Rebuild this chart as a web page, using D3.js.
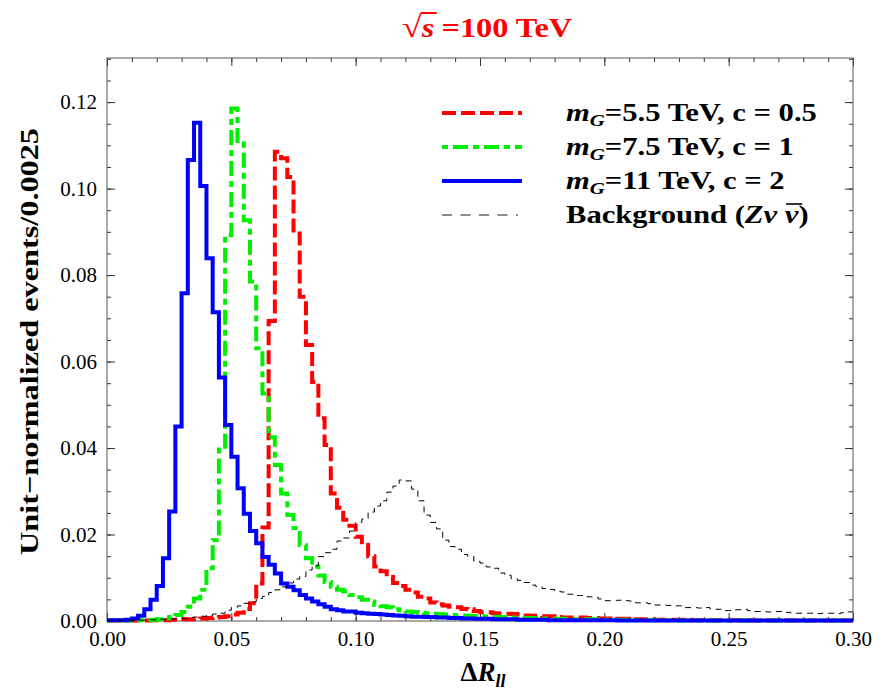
<!DOCTYPE html>
<html>
<head>
<meta charset="utf-8">
<script src="https://cdn.jsdelivr.net/npm/d3@7"></script>
<style>
body { margin: 0; background: #fff; }
text { font-family: "Liberation Serif", "Times New Roman", serif; }
</style>
</head>
<body>
<div id="chart-area"></div>
<script>
// histogram bins, width 0.0025 from 0 to 0.3 (120 bins)
var binWidth = 0.0025;
var xMax = 0.3;

var redValues = [
  0.0001,0.0001,0.0001,0.0001,0.0001,0.0001,0.0001,0.0002,0.0002,0.0002,
  0.0003,0.0003,0.0004,0.0004,0.0005,0.0006,0.0007,0.0008,0.0009,0.0011,
  0.0015,0.0019,0.0028,0.0041,0.0087,0.0216,0.0694,0.1085,0.1070,0.1027,
  0.0896,0.0750,0.0638,0.0553,0.0469,0.0407,0.0295,0.0262,0.0234,0.0220,
  0.0195,0.0176,0.0150,0.0126,0.0115,0.0102,0.0088,0.0081,0.0072,0.0066,
  0.0056,0.0052,0.0043,0.0039,0.0036,0.0033,0.0032,0.0028,0.0027,0.0023,
  0.0020,0.0020,0.0018,0.0017,0.0017,0.0016,0.0015,0.0013,0.0012,0.0012,
  0.0011,0.0011,0.0009,0.0008,0.0008,0.0008,0.0008,0.0007,0.0007,0.0006,
  0.0006,0.0005,0.0005,0.0005,0.0004,0.0004,0.0004,0.0004,0.0003,0.0003,
  0.0003,0.0003,0.0003,0.0003,0.0002,0.0002,0.0002,0.0002,0.0002,0.0002,
  0.0002,0.0002,0.0002,0.0001,0.0001,0.0001,0.0001,0.0001,0.0001,0.0001,
  0.0001,0.0001,0.0001,0.0001,0.0001,0.0001,0.0001,0.0001,0.0001,0.0001
];

var greenValues = [
  0.0001,0.0001,0.0001,0.0001,0.0002,0.0002,0.0002,0.0003,0.0004,0.0006,
  0.0009,0.0014,0.0021,0.0033,0.0052,0.0072,0.0122,0.0187,0.0403,0.0892,
  0.1185,0.1104,0.0927,0.0785,0.0631,0.0526,0.0425,0.0361,0.0295,0.0245,
  0.0215,0.0175,0.0145,0.0126,0.0105,0.0090,0.0079,0.0072,0.0068,0.0060,
  0.0055,0.0049,0.0045,0.0037,0.0034,0.0032,0.0027,0.0025,0.0022,0.0021,
  0.0019,0.0018,0.0017,0.0016,0.0015,0.0014,0.0013,0.0013,0.0012,0.0012,
  0.0011,0.0010,0.0010,0.0009,0.0009,0.0008,0.0008,0.0007,0.0007,0.0006,
  0.0006,0.0006,0.0005,0.0005,0.0005,0.0004,0.0004,0.0004,0.0004,0.0003,
  0.0003,0.0003,0.0003,0.0003,0.0002,0.0002,0.0002,0.0002,0.0002,0.0002,
  0.0002,0.0002,0.0001,0.0001,0.0001,0.0001,0.0001,0.0001,0.0001,0.0001,
  0.0001,0.0001,0.0001,0.0001,0.0001,0.0001,0.0001,0.0001,0.0001,0.0001,
  0.0001,0.0001,0.0001,0.0001,0.0001,0.0001,0.0001,0.0001,0.0001,0.0001
];

var blueValues = [
  0.0002,0.0002,0.0002,0.0003,0.0006,0.0012,0.0027,0.0049,0.0081,0.0145,
  0.0253,0.0450,0.0758,0.1066,0.1152,0.1006,0.0839,0.0714,0.0563,0.0453,
  0.0380,0.0307,0.0248,0.0208,0.0180,0.0148,0.0130,0.0110,0.0087,0.0079,
  0.0071,0.0060,0.0052,0.0045,0.0039,0.0033,0.0027,0.0025,0.0022,0.0022,
  0.0019,0.0018,0.0017,0.0016,0.0015,0.0014,0.0013,0.0012,0.0011,0.0010,
  0.0010,0.0009,0.0009,0.0008,0.0008,0.0007,0.0007,0.0006,0.0006,0.0005,
  0.0005,0.0005,0.0004,0.0004,0.0004,0.0004,0.0003,0.0003,0.0003,0.0003,
  0.0003,0.0002,0.0002,0.0002,0.0002,0.0002,0.0002,0.0002,0.0002,0.0002,
  0.0002,0.0002,0.0001,0.0001,0.0001,0.0001,0.0001,0.0001,0.0001,0.0001,
  0.0001,0.0001,0.0001,0.0001,0.0001,0.0001,0.0001,0.0001,0.0001,0.0001,
  0.0001,0.0001,0.0001,0.0001,0.0001,0.0001,0.0001,0.0001,0.0001,0.0001,
  0.0001,0.0001,0.0001,0.0001,0.0001,0.0001,0.0001,0.0001,0.0001,0.0001
];

var backgroundValues = [
  0.0001,0.0001,0.0001,0.0002,0.0002,0.0002,0.0003,0.0003,0.0004,0.0004,
  0.0005,0.0006,0.0006,0.0008,0.0009,0.0011,0.0013,0.0016,0.0018,0.0025,
  0.0032,0.0035,0.0041,0.0044,0.0052,0.0057,0.0066,0.0072,0.0079,0.0088,
  0.0097,0.0103,0.0118,0.0128,0.0149,0.0158,0.0166,0.0185,0.0192,0.0208,
  0.0228,0.0236,0.0252,0.0266,0.0278,0.0298,0.0312,0.0326,0.0324,0.0305,
  0.0278,0.0245,0.0228,0.0213,0.0187,0.0172,0.0166,0.0154,0.0150,0.0138,
  0.0134,0.0125,0.0122,0.0111,0.0106,0.0098,0.0094,0.0089,0.0083,0.0079,
  0.0075,0.0073,0.0069,0.0067,0.0062,0.0059,0.0059,0.0056,0.0055,0.0051,
  0.0047,0.0047,0.0048,0.0047,0.0046,0.0042,0.0042,0.0040,0.0037,0.0037,
  0.0036,0.0035,0.0035,0.0031,0.0031,0.0030,0.0031,0.0028,0.0027,0.0024,
  0.0024,0.0026,0.0027,0.0024,0.0022,0.0022,0.0021,0.0022,0.0022,0.0020,
  0.0018,0.0018,0.0018,0.0018,0.0017,0.0018,0.0018,0.0017,0.0019,0.0021
];

var xMajorTicks = [0, 0.05, 0.10, 0.15, 0.20, 0.25, 0.30];
var yMajorTicks = [0, 0.02, 0.04, 0.06, 0.08, 0.10, 0.12];

var width = 886, height = 699;
var pLeft = 107, pRight = 853, pTop = 58, pBottom = 621;

var svg = d3.select("#chart-area").append("svg")
    .attr("width", width)
    .attr("height", height);

var x = d3.scaleLinear().domain([0, xMax]).range([pLeft, pRight]);
var y = d3.scaleLinear().domain([0, 0.1302]).range([pBottom, pTop]);

var xMinor = d3.range(0, 0.3001, 0.01);
var yMinor = d3.range(0, 0.1301, 0.005);

// ticks on all four sides, pointing inward
function addAxis(axis, tr, vals, size, fmt) {
    var g = svg.append("g").attr("transform", tr)
        .call(axis.tickValues(vals).tickSize(size).tickPadding(10).tickFormat(fmt));
    g.select(".domain").remove();
    g.selectAll("line").attr("stroke", "#333").attr("stroke-width", 1);
    g.selectAll("text").attr("font-size", 21).attr("fill", "#000")
        .style("font-family", '"Liberation Serif", serif');
    return g;
}
var noLabel = function() { return ""; };
addAxis(d3.axisBottom(x), "translate(0," + pBottom + ")", xMinor, -4, noLabel);
addAxis(d3.axisBottom(x), "translate(0," + pBottom + ")", xMajorTicks, -8, d3.format(".2f"))
    .selectAll("text").attr("y", 8).attr("dy", "0.8em");
addAxis(d3.axisTop(x), "translate(0," + pTop + ")", xMinor, -4, noLabel);
addAxis(d3.axisTop(x), "translate(0," + pTop + ")", xMajorTicks, -8, noLabel);
addAxis(d3.axisLeft(y), "translate(" + pLeft + ",0)", yMinor, -4, noLabel);
addAxis(d3.axisLeft(y), "translate(" + pLeft + ",0)", yMajorTicks, -8, d3.format(".2f"));
addAxis(d3.axisRight(y), "translate(" + pRight + ",0)", yMinor, -4, noLabel);
addAxis(d3.axisRight(y), "translate(" + pRight + ",0)", yMajorTicks, -8, noLabel);

svg.append("rect")
    .attr("x", pLeft).attr("y", pTop)
    .attr("width", pRight - pLeft).attr("height", pBottom - pTop)
    .attr("fill", "none").attr("stroke", "#555").attr("stroke-width", 1);

svg.append("clipPath").attr("id", "plotclip").append("rect")
    .attr("x", pLeft - 3).attr("y", pTop).attr("width", pRight - pLeft + 6).attr("height", pBottom - pTop + 3);

var stepLine = d3.line()
    .x(function(d) { return x(d[0]); })
    .y(function(d) { return y(d[1]); })
    .curve(d3.curveStepAfter);

function toPoints(values) {
    var pts = values.map(function(v, i) { return [i * binWidth, v]; });
    pts.push([xMax, values[values.length - 1]]);
    return pts;
}

var series = [
    { values: redValues, color: "#ff0000", width: 4, dash: "14,5", label: "5.5 TeV, c = 0.5" },
    { values: greenValues, color: "#00ee00", width: 4, dash: "6,5,15,5", label: "7.5 TeV, c = 1" },
    { values: blueValues, color: "#0000ff", width: 4, dash: null, label: "11 TeV, c = 2" },
    { values: backgroundValues, color: "#000", width: 1, dash: "6,5", label: null }
];

var plot = svg.append("g").attr("clip-path", "url(#plotclip)");
series.forEach(function(s) {
    plot.append("path")
        .attr("d", stepLine(toPoints(s.values)))
        .attr("fill", "none")
        .attr("stroke", s.color)
        .attr("stroke-width", s.width)
        .attr("stroke-dasharray", s.dash)
        .attr("stroke-linejoin", "miter");
});

// widen a text group horizontally around x0 (the reference text runs wider)
function stretch(g, x0, k) {
    g.attr("transform", "translate(" + x0 + ",0) scale(" + k + ",1) translate(" + (-x0) + ",0)");
}

// legend
var legendRows = [113, 147, 181, 215];
var legendX = 566;
var legendK = null;
series.forEach(function(s, i) {
    var ly = legendRows[i];
    svg.append("line")
        .attr("x1", 442).attr("x2", i == 3 ? 518 : 522)
        .attr("y1", ly).attr("y2", ly)
        .attr("stroke", i == 3 ? "#666" : s.color)
        .attr("stroke-width", i == 3 ? 1.6 : 4)
        .attr("stroke-dasharray", i == 3 ? "10,8.5" : s.dash);
    var g = svg.append("g");
    var t = g.append("text")
        .attr("x", legendX).attr("y", ly + 8)
        .attr("font-size", 25).attr("font-weight", "bold");
    if (s.label) {
        t.append("tspan").attr("font-style", "italic").text("m");
        t.append("tspan").attr("font-style", "italic").attr("font-size", 17).attr("dy", 5).text("G");
        t.append("tspan").attr("dy", -5).text("=" + s.label);
    } else {
        t.append("tspan").text("Background (");
        t.append("tspan").attr("font-style", "italic").text("Zν ν");
        t.append("tspan").text(")");
        // bar over the second nu
        var node = t.node();
        var idx = "Background (Zν ".length;
        var p0 = node.getStartPositionOfChar(idx), p1 = node.getEndPositionOfChar(idx);
        g.append("line")
            .attr("x1", p0.x + 1).attr("x2", p1.x + 3)
            .attr("y1", ly - 11).attr("y2", ly - 11)
            .attr("stroke", "#000").attr("stroke-width", 1.6);
    }
    if (legendK === null) legendK = 251 / t.node().getComputedTextLength();
    stretch(g, legendX, legendK);
});

// title
var tg = svg.append("g");
var title = tg.append("text")
    .attr("x", 402).attr("y", 37)
    .attr("font-size", 27).attr("font-weight", "bold").attr("fill", "#ff0000");
title.append("tspan").attr("font-size", 30).attr("font-weight", "normal").text("√");
title.append("tspan").attr("font-style", "italic").text("s");
title.append("tspan").attr("dx", 6).text("=100 TeV");
var tn = title.node();
var r1 = tn.getEndPositionOfChar(0), s1 = tn.getEndPositionOfChar(1);
tg.append("line")
    .attr("x1", r1.x - 1).attr("x2", s1.x + 2)
    .attr("y1", 13).attr("y2", 13)
    .attr("stroke", "#ff0000").attr("stroke-width", 2);
stretch(tg, 402, 163 / tn.getComputedTextLength());

// axis labels
svg.append("text")
    .attr("transform", "translate(38," + ((pTop + pBottom) / 2 + 2) + ") rotate(-90)")
    .attr("text-anchor", "middle")
    .attr("font-size", 25).attr("font-weight", "bold")
    .attr("textLength", 427).attr("lengthAdjust", "spacingAndGlyphs")
    .text("Unit\u2212normalized events/0.0025");

var xl = svg.append("text")
    .attr("x", (pLeft + pRight) / 2 + 3).attr("y", 681)
    .attr("text-anchor", "middle")
    .attr("font-size", 27).attr("font-weight", "bold");
xl.append("tspan").text("Δ");
xl.append("tspan").attr("font-style", "italic").text("R");
xl.append("tspan").attr("font-style", "italic").attr("font-size", 18).attr("dy", 6).text("ll");
</script>
</body>
</html>
